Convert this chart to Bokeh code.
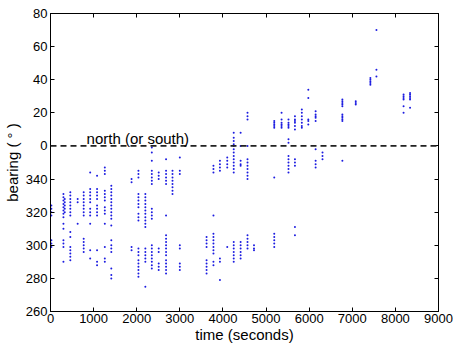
from bokeh.plotting import figure
from bokeh.models import (Range1d, FixedTicker, LinearAxis, CustomJSTickFormatter,
                          Span, Label, ColumnDataSource)
from bokeh.embed import file_html
from bokeh.resources import INLINE

# ---- data: cluster times (s) and bearings (degrees, true compass bearing) ----
cluster_times = [20, 300, 330, 460, 630, 770, 920, 1080, 1260, 1410,
                 1880, 2040, 2200, 2350, 2510, 2680, 2830, 3000,
                 3620, 3780, 3930, 4100, 4250, 4410, 4570, 4720,
                 5190, 5360, 5520, 5670, 5830, 5980, 6150, 6310,
                 6770, 7080, 7420, 7560, 8190, 8340]

cluster_bearings = [
    [324, 322, 320, 318, 303, 301, 299],
    [331, 329, 327, 325, 323, 321, 319, 317, 313, 310, 303, 301, 299, 290],
    [328, 326, 324, 322, 320],
    [332, 330, 328, 326, 324, 322, 320, 318, 308, 305, 299, 297, 295, 293, 291],
    [328, 326, 313],
    [332, 330, 328, 326, 324, 322, 320, 318, 304, 302, 300, 298, 296],
    [344, 334, 332, 330, 328, 326, 322, 320, 318, 313, 297, 292],
    [342, 334, 332, 330, 328, 324, 322, 320, 318, 297, 290, 288],
    [347, 345, 343, 333, 331, 329, 327, 323, 321, 319, 313, 299, 292, 290],
    [336, 334, 332, 330, 328, 326, 324, 322, 320, 318, 316, 312, 303, 300, 298, 296, 286, 282, 280],
    [340, 338, 299, 297],
    [345, 343, 341, 331, 329, 327, 325, 323, 319, 317, 315, 298, 296, 294, 291, 289, 287, 285, 283, 281],
    [331, 329, 327, 325, 323, 321, 319, 317, 315, 313, 311, 298, 296, 294, 292, 290, 275],
    [359, 356, 351, 345, 343, 341, 339, 337, 322, 320, 318, 316, 300, 298, 296, 294, 292, 290, 288, 286],
    [344, 342, 340, 298, 296, 289, 287, 285],
    [352, 345, 343, 341, 339, 337, 318, 306, 304, 302, 300, 298, 296, 294, 291, 289, 287, 285, 283],
    [345, 343, 341, 339, 337, 335, 333, 331],
    [353, 345, 343, 300, 298, 289, 287, 285],
    [305, 303, 301, 299, 291, 289, 287, 285, 283],
    [348, 346, 344, 318, 307, 305, 303, 301, 299, 297, 295, 290, 288],
    [351, 349, 347, 345, 292, 290, 279],
    [353, 351, 349, 347, 299],
    [8, 5, 3, 1, 0, 358, 356, 354, 352, 350, 348, 346, 344, 302, 300, 298, 296, 294, 292, 290],
    [8, 0, 351, 349, 348, 302, 300, 298, 296, 294, 292],
    [20, 18, 16, 0, 352, 350, 348, 346, 344, 342, 340, 306, 304, 302, 300, 298],
    [300, 298, 297],
    [15, 14, 13, 12, 11, 341, 307, 305, 303, 301, 299],
    [20, 16, 14, 13, 12, 11],
    [16, 14, 13, 12, 11, 4, 2, 354, 352, 350, 348, 346, 344],
    [18, 16, 15, 14, 12, 10, 352, 350, 348, 311, 306],
    [22, 20, 18, 16, 14, 12, 11],
    [34, 29, 16, 15, 13],
    [21, 19, 18, 17, 15, 358, 351, 349, 347],
    [356, 354, 352],
    [28, 27, 26, 25, 24, 19, 18, 17, 16, 15, 351],
    [27, 26, 25],
    [41, 40, 39, 38, 37],
    [70, 46, 42],
    [31, 30, 29, 28, 24, 20],
    [32, 31, 30, 29, 28, 23],
]

x_ticks = [0, 1000, 2000, 3000, 4000, 5000, 6000, 7000, 8000, 9000]
y_ticks = [260, 280, 300, 320, 340, 360, 380, 400, 420, 440]  # shown modulo 360
north_bearing = 360
annotation_text = "north (or south)"

# unwrap bearings so that 0..80 sit above 340
xs, ys = [], []
for t, bs in zip(cluster_times, cluster_bearings):
    for b in bs:
        xs.append(t)
        ys.append(b + 360 if b < 180 else b)
src = ColumnDataSource(dict(x=xs, y=ys))

FONT = "Liberation Sans"

p = figure(width=453, height=345, output_backend="svg", toolbar_location=None,
           x_range=Range1d(0, 9000), y_range=Range1d(260, 440),
           min_border_left=50, min_border_right=15, min_border_top=13, min_border_bottom=0)
p.background_fill_color = "white"
p.border_fill_color = "white"
p.outline_line_color = "black"
p.xgrid.visible = False
p.ygrid.visible = False

p.scatter("x", "y", source=src, marker="circle", size=2.0,
          fill_color="#1c1ce0", line_color=None)

p.add_layout(Span(location=north_bearing, dimension="width", line_color="#222222",
                  line_width=1.7, line_dash="6 4"))
p.add_layout(Label(x=836, y=364.5, text=annotation_text, text_font=FONT,
                   text_font_size="15px", text_color="black", text_baseline="alphabetic"))

fmt_y = CustomJSTickFormatter(code="return String(((tick % 360) + 360) % 360);")

def style(ax):
    ax.major_tick_in = 4
    ax.major_tick_out = 0
    ax.minor_tick_line_color = None
    ax.axis_line_color = "black"
    ax.major_tick_line_color = "black"
    ax.major_label_text_font = FONT
    ax.major_label_text_font_size = "13px"
    ax.major_label_text_color = "black"
    ax.axis_label_text_font = FONT
    ax.axis_label_text_font_size = "15px"
    ax.axis_label_text_font_style = "normal"
    ax.axis_label_text_color = "black"

xa = p.xaxis[0]
xa.ticker = FixedTicker(ticks=x_ticks)
xa.axis_label = "time (seconds)"
style(xa)
xa.major_label_standoff = 2
xa.axis_label_standoff = 0

ya = p.yaxis[0]
ya.ticker = FixedTicker(ticks=y_ticks)
ya.formatter = fmt_y
ya.axis_label = "bearing ( \u00b0 )"
style(ya)
ya.major_label_standoff = 3
ya.axis_label_standoff = 2

empty = CustomJSTickFormatter(code="return '';")
ra = LinearAxis(ticker=FixedTicker(ticks=y_ticks), formatter=empty)
style(ra)
ra.major_label_text_font_size = "0px"
ra.major_label_standoff = 0
p.add_layout(ra, "right")
ta = LinearAxis(ticker=FixedTicker(ticks=x_ticks), formatter=empty)
style(ta)
ta.major_label_text_font_size = "0px"
ta.major_label_standoff = 0
p.add_layout(ta, "above")

open("out.html", "w").write(file_html(p, INLINE))
